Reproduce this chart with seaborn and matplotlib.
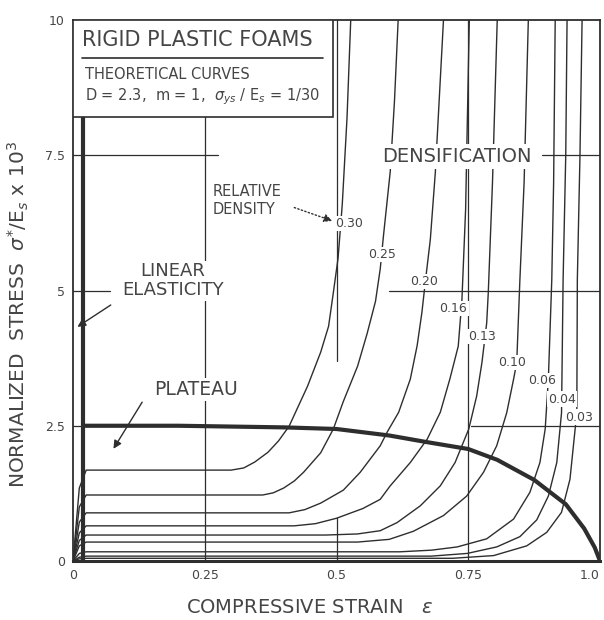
import pandas as pd
import matplotlib.pyplot as plt
from matplotlib.patches import Rectangle
import seaborn as sns

# --- DADOS ---
densidades = ["0.30", "0.25", "0.20", "0.16", "0.13", "0.10", "0.06", "0.04", "0.03"]

strain_030 = [0.0, 0.012, 0.025, 0.30, 0.324, 0.345, 0.37, 0.39, 0.41, 0.445, 0.47, 0.485, 0.494, 0.503, 0.511, 0.52, 0.527]
stress_030 = [0.0, 1.35, 1.68, 1.68, 1.72, 1.83, 2.01, 2.22, 2.49, 3.23, 3.86, 4.34, 4.96, 5.6, 6.6, 8.2, 10.0]

strain_025 = [0.0, 0.012, 0.025, 0.36, 0.38, 0.40, 0.42, 0.4375, 0.47, 0.494, 0.513, 0.54, 0.558, 0.574, 0.583, 0.589, 0.602, 0.61, 0.617]
stress_025 = [0.0, 1.0, 1.22, 1.22, 1.26, 1.35, 1.48, 1.64, 2.0, 2.44, 2.95, 3.6, 4.2, 4.8, 5.4, 6.0, 7.2, 8.5, 10.0]

strain_020 = [0.0, 0.012, 0.025, 0.41, 0.44, 0.47, 0.513, 0.545, 0.583, 0.596, 0.618, 0.640, 0.653, 0.662, 0.669, 0.678, 0.6875, 0.703]
stress_020 = [0.0, 0.72, 0.89, 0.89, 0.95, 1.07, 1.31, 1.64, 2.13, 2.38, 2.75, 3.36, 3.98, 4.59, 5.2, 5.94, 7.18, 10.0]

strain_016 = [0.0, 0.012, 0.025, 0.42, 0.46, 0.50, 0.55, 0.583, 0.602, 0.640, 0.672, 0.697, 0.715, 0.731, 0.738, 0.745, 0.752]
stress_016 = [0.0, 0.52, 0.65, 0.65, 0.69, 0.79, 0.97, 1.14, 1.39, 1.82, 2.25, 2.75, 3.36, 3.97, 4.83, 6.5, 10.0]

strain_013 = [0.0, 0.012, 0.025, 0.48, 0.54, 0.583, 0.615, 0.659, 0.697, 0.725, 0.751, 0.766, 0.776, 0.785, 0.788, 0.796, 0.805]
stress_013 = [0.0, 0.38, 0.48, 0.48, 0.50, 0.56, 0.71, 1.02, 1.39, 1.82, 2.44, 3.05, 3.67, 4.40, 4.96, 7.0, 10.0]

strain_010 = [0.0, 0.012, 0.025, 0.54, 0.60, 0.646, 0.703, 0.747, 0.779, 0.804, 0.823, 0.836, 0.842, 0.848, 0.856, 0.864]
stress_010 = [0.0, 0.28, 0.35, 0.35, 0.40, 0.55, 0.84, 1.2, 1.64, 2.13, 2.74, 3.36, 3.67, 5.2, 7.0, 10.0]

strain_006 = [0.0, 0.012, 0.025, 0.62, 0.68, 0.729, 0.785, 0.836, 0.867, 0.886, 0.896, 0.902, 0.9085, 0.912, 0.915]
stress_006 = [0.0, 0.14, 0.17, 0.17, 0.20, 0.26, 0.41, 0.775, 1.27, 1.82, 2.44, 3.36, 5.2, 7.0, 10.0]

strain_004 = [0.0, 0.012, 0.025, 0.68, 0.748, 0.804, 0.848, 0.880, 0.902, 0.918, 0.927, 0.930, 0.935, 0.9375]
stress_004 = [0.0, 0.07, 0.09, 0.09, 0.14, 0.26, 0.45, 0.76, 1.20, 1.82, 2.74, 5.2, 7.5, 10.0]

strain_003 = [0.0, 0.012, 0.025, 0.72, 0.798, 0.861, 0.899, 0.927, 0.943, 0.956, 0.957, 0.962, 0.966]
stress_003 = [0.0, 0.04, 0.05, 0.05, 0.10, 0.28, 0.53, 0.90, 1.51, 2.74, 5.2, 7.5, 10.0]

curvas_strain = [strain_030, strain_025, strain_020, strain_016, strain_013,
                 strain_010, strain_006, strain_004, strain_003]
curvas_stress = [stress_030, stress_025, stress_020, stress_016, stress_013,
                 stress_010, stress_006, stress_004, stress_003]

# rótulos das densidades relativas (posição do texto)
rotulo_x = [0.523, 0.587, 0.667, 0.722, 0.776, 0.833, 0.89, 0.928, 0.96]
rotulo_y = [6.24, 5.67, 5.17, 4.67, 4.15, 3.67, 3.34, 2.99, 2.66]

# envoltória (início da densificação) - linha grossa
env_strain = [0.019, 0.2, 0.4, 0.5, 0.6, 0.67, 0.75, 0.805, 0.875, 0.935, 0.97, 0.99, 1.0]
env_stress = [2.5, 2.5, 2.47, 2.44, 2.32, 2.2, 2.07, 1.87, 1.5, 1.05, 0.6, 0.25, 0.0]

# linha de elasticidade linear (vertical grossa)
elast_strain = [0.019, 0.019]
elast_stress = [0.0, 8.2]

x_ticks = [0, 0.25, 0.5, 0.75, 1.0]
x_ticklabels = ["0", "0.25", "0.5", "0.75", "1.0"]
y_ticks = [0, 2.5, 5, 7.5, 10]
y_ticklabels = ["0", "2.5", "5", "7.5", "10"]

# --- MONTA DATAFRAME LONGO ---
linhas = []
for dens, xs, ys in zip(densidades, curvas_strain, curvas_stress):
    for i, (x, y) in enumerate(zip(xs, ys)):
        linhas.append({"densidade": dens, "ordem": i, "strain": x, "stress": y})
df = pd.DataFrame(linhas)

# --- ESTILO ---
sns.set_theme(style="white")
plt.rcParams['font.family'] = ['DejaVu Sans']
COR = "#2e2e2e"
COR_TXT = "#454545"

fig = plt.figure(figsize=(6.04, 6.20), dpi=100)
ax = fig.add_axes([73 / 604, 1 - 561 / 620, 527 / 604, 541 / 620])

# grade parcial (como no original)
grade = dict(color=COR, lw=0.9, zorder=1)
ax.axvline(0.25, **grade)
ax.axvline(0.5, ymin=0.37, ymax=1.0, **grade)
ax.axvline(0.5, ymin=0.0, ymax=0.08, **grade)
ax.axvline(0.75, **grade)
ax.axhline(7.5, xmin=0.0, xmax=0.275, **grade)
ax.axhline(7.5, xmin=0.89, xmax=1.0, **grade)
ax.axhline(5, xmin=0.0, xmax=0.07, **grade)
ax.axhline(5, xmin=0.60, xmax=1.0, **grade)
ax.axhline(2.5, xmin=0.0, xmax=0.09, **grade)
ax.axhline(2.5, xmin=0.755, xmax=1.0, **grade)

# curvas teóricas
sns.lineplot(data=df, x="strain", y="stress", units="densidade", estimator=None,
             sort=False, color=COR, lw=1.0, ax=ax, zorder=3, legend=False)

# envoltória e elasticidade linear
sns.lineplot(x=env_strain, y=env_stress, sort=False, estimator=None,
             color=COR, lw=3.0, ax=ax, zorder=4)
sns.lineplot(x=elast_strain, y=elast_stress, sort=False, estimator=None,
             color=COR, lw=3.0, ax=ax, zorder=4)

# rótulos de densidade relativa
for txt, x, y in zip(densidades, rotulo_x, rotulo_y):
    ax.text(x, y, txt, fontsize=9, color=COR_TXT, ha="center", va="center", zorder=6,
            bbox=dict(boxstyle="square,pad=0.1", fc="white", ec="none"))

# caixa de título
ax.add_patch(Rectangle((0.0, 8.2), 0.493, 1.8, fc="white", ec=COR, lw=1.2, zorder=7))
ax.text(0.017, 9.63, "RIGID PLASTIC FOAMS", fontsize=15, color=COR_TXT, va="center", zorder=8)
ax.plot([0.017, 0.474], [9.30, 9.30], color=COR, lw=1.2, zorder=8)
ax.text(0.023, 8.99, "THEORETICAL CURVES", fontsize=10.5, color=COR_TXT, va="center", zorder=8)
ax.text(0.023, 8.58, r"D = 2.3,  m = 1,  $\sigma_{ys}$ / E$_s$ = 1/30", fontsize=10.5,
        color=COR_TXT, va="center", zorder=8)

# anotações
ax.text(0.729, 7.48, "DENSIFICATION", fontsize=14, color=COR_TXT, ha="center", va="center",
        zorder=6, bbox=dict(boxstyle="square,pad=0.15", fc="white", ec="none"))
ax.text(0.265, 6.66, "RELATIVE\nDENSITY", fontsize=10.5, color=COR_TXT, ha="left", va="center",
        linespacing=1.2, zorder=6)
ax.annotate("", xy=(0.497, 6.27), xytext=(0.415, 6.55),
            arrowprops=dict(arrowstyle="-|>", color=COR, lw=1.0, ls=":"), zorder=6)
ax.text(0.19, 5.18, "LINEAR\nELASTICITY", fontsize=13, color=COR_TXT, ha="center", va="center",
        linespacing=1.05, zorder=6, bbox=dict(boxstyle="square,pad=0.1", fc="white", ec="none"))
ax.annotate("", xy=(0.004, 4.3), xytext=(0.076, 4.76),
            arrowprops=dict(arrowstyle="-|>", color=COR, lw=1.0), zorder=6)
ax.text(0.233, 3.17, "PLATEAU", fontsize=13.5, color=COR_TXT, ha="center", va="center",
        zorder=6, bbox=dict(boxstyle="square,pad=0.1", fc="white", ec="none"))
ax.annotate("", xy=(0.074, 2.03), xytext=(0.134, 2.98),
            arrowprops=dict(arrowstyle="-|>", color=COR, lw=1.0), zorder=6)

# eixos
ax.set_xlim(0, 1.0)
ax.set_ylim(0, 10)
ax.set_xticks(x_ticks)
ax.set_xticklabels(x_ticklabels)
ax.set_yticks(y_ticks)
ax.set_yticklabels(y_ticklabels)
ax.tick_params(length=0, labelsize=9, colors=COR_TXT, pad=6)
ax.get_xticklabels()[-1].set_ha("right")
for s in ax.spines.values():
    s.set_color(COR)
    s.set_linewidth(1.3)
ax.spines["bottom"].set_linewidth(2.2)

ax.set_xlabel(r"COMPRESSIVE STRAIN   $\epsilon$", fontsize=14, color=COR_TXT)
ax.xaxis.set_label_coords(0.45, -0.068)
ax.set_ylabel(r"NORMALIZED  STRESS  $\sigma^{*}$/E$_s$ x 10$^3$", fontsize=14.5, color=COR_TXT)
ax.yaxis.set_label_coords(-0.08, 0.455)

fig.savefig("out.png", dpi=100)
